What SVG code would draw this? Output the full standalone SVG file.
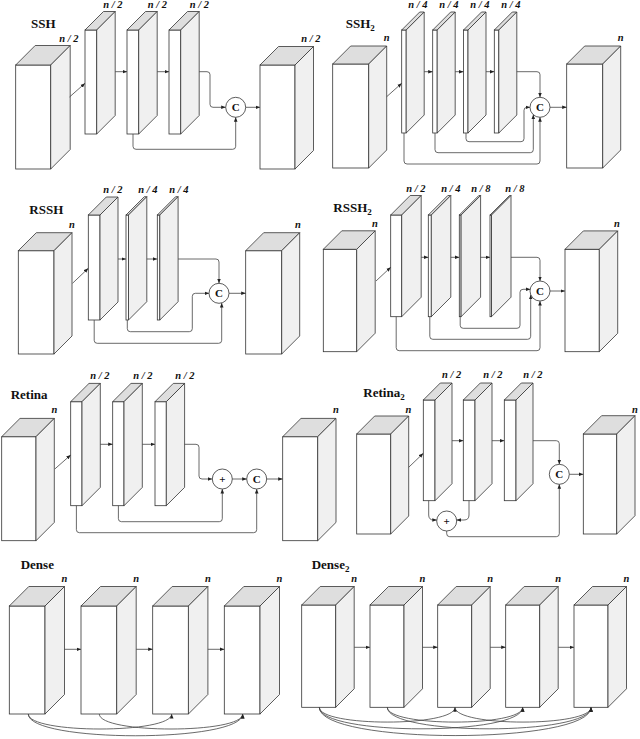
<svg xmlns="http://www.w3.org/2000/svg" width="640" height="739" viewBox="0 0 640 739">
<style>
.f{fill:#fff;stroke:#333;stroke-width:0.8}
.t{fill:#dedede;stroke:#333;stroke-width:0.8;stroke-linejoin:round}
.s{fill:#f0f0f0;stroke:#333;stroke-width:0.8;stroke-linejoin:round}
.c{fill:none;stroke:#444;stroke-width:0.8;marker-end:url(#a)}
.lab{font-family:"Liberation Serif",serif;font-weight:bold;font-style:italic;font-size:10.5px;text-anchor:middle;fill:#111}
.ttl{font-family:"Liberation Serif",serif;font-weight:bold;font-size:13px;fill:#111}
.sub{font-size:9px}
.op{fill:#fff;stroke:#333;stroke-width:0.8}
.opt{font-family:"Liberation Serif",serif;font-weight:bold;font-size:11px;text-anchor:middle;fill:#111}
</style>
<defs>
<marker id="a" viewBox="0 0 10 10" refX="10" refY="5" markerWidth="4.5" markerHeight="4.5" markerUnits="userSpaceOnUse" orient="auto"><path d="M0,1 L10,5 L0,9 z" fill="#222"/></marker>
</defs>
<rect width="640" height="739" fill="#fff"/>

<!-- ===== SSH ===== -->
<g id="ssh">
<text class="ttl" x="31" y="28">SSH</text>
<g id="ssh-in"><rect class="f" x="15.7" y="65" width="35" height="104"/><polygon class="t" points="15.7,65 35.2,45.5 70.2,45.5 50.7,65"/><polygon class="s" points="50.7,65 70.2,45.5 70.2,149.5 50.7,169"/><text class="lab" x="69" y="41.5">n / 2</text></g>
<g id="ssh-s1"><rect class="f" x="85" y="30" width="11.7" height="104"/><polygon class="t" points="85,30 103.5,11.5 115.2,11.5 96.7,30"/><polygon class="s" points="96.7,30 115.2,11.5 115.2,115.5 96.7,134"/><text class="lab" x="113" y="7.5">n / 2</text></g>
<g id="ssh-s2"><rect class="f" x="127" y="30" width="11.7" height="104"/><polygon class="t" points="127,30 145.5,11.5 157.2,11.5 138.7,30"/><polygon class="s" points="138.7,30 157.2,11.5 157.2,115.5 138.7,134"/><text class="lab" x="157.5" y="7.5">n / 2</text></g>
<g id="ssh-s3"><rect class="f" x="169" y="30" width="11.7" height="104"/><polygon class="t" points="169,30 187.5,11.5 199.2,11.5 180.7,30"/><polygon class="s" points="180.7,30 199.2,11.5 199.2,115.5 180.7,134"/><text class="lab" x="199.5" y="7.5">n / 2</text></g>
<g id="ssh-out"><rect class="f" x="260" y="65" width="35" height="104"/><polygon class="t" points="260,65 278.5,46.5 313.5,46.5 295,65"/><polygon class="s" points="295,65 313.5,46.5 313.5,150.5 295,169"/><text class="lab" x="311" y="41.5">n / 2</text></g>
<g id="ssh-cat"><circle class="op" cx="235.7" cy="107.3" r="10"/><text class="opt" x="235.7" y="111.2">C</text></g>
</g>

<!-- ===== SSH2 ===== -->
<g id="ssh2">
<text class="ttl" x="345.7" y="28">SSH<tspan class="sub" dy="3">2</tspan></text>
<g id="ssh2-in"><rect class="f" x="332.7" y="64" width="36" height="104"/><polygon class="t" points="332.7,64 350.7,46 386.7,46 368.7,64"/><polygon class="s" points="368.7,64 386.7,46 386.7,150 368.7,168"/><text class="lab" x="386.7" y="41">n</text></g>
<g id="ssh2-s1"><rect class="f" x="401.7" y="30" width="4.5" height="103"/><polygon class="t" points="401.7,30 419.7,12 424.2,12 406.2,30"/><polygon class="s" points="406.2,30 424.2,12 424.2,115 406.2,133"/><text class="lab" x="418" y="7.5">n / 4</text></g>
<g id="ssh2-s2"><rect class="f" x="432.7" y="30" width="4.5" height="103"/><polygon class="t" points="432.7,30 450.7,12 455.2,12 437.2,30"/><polygon class="s" points="437.2,30 455.2,12 455.2,115 437.2,133"/><text class="lab" x="449" y="7.5">n / 4</text></g>
<g id="ssh2-s3"><rect class="f" x="463.5" y="30" width="4.5" height="103"/><polygon class="t" points="463.5,30 481.5,12 486,12 468,30"/><polygon class="s" points="468,30 486,12 486,115 468,133"/><text class="lab" x="480" y="7.5">n / 4</text></g>
<g id="ssh2-s4"><rect class="f" x="494.3" y="30" width="4.5" height="103"/><polygon class="t" points="494.3,30 512.3,12 516.8,12 498.8,30"/><polygon class="s" points="498.8,30 516.8,12 516.8,115 498.8,133"/><text class="lab" x="511" y="7.5">n / 4</text></g>
<g id="ssh2-out"><rect class="f" x="566.7" y="64" width="36" height="104"/><polygon class="t" points="566.7,64 584.7,46 620.7,46 602.7,64"/><polygon class="s" points="602.7,64 620.7,46 620.7,150 602.7,168"/><text class="lab" x="620.7" y="41">n</text></g>
<g id="ssh2-cat"><circle class="op" cx="540" cy="107.3" r="10"/><text class="opt" x="540" y="111.2">C</text></g>
</g>

<!-- ===== RSSH ===== -->
<g id="rssh">
<text class="ttl" x="29.3" y="213.5">RSSH</text>
<g id="rssh-in"><rect class="f" x="18.3" y="250.7" width="35.7" height="103.3"/><polygon class="t" points="18.3,250.7 36.3,232.7 72,232.7 54,250.7"/><polygon class="s" points="54,250.7 72,232.7 72,336 54,354"/><text class="lab" x="72" y="228">n</text></g>
<g id="rssh-s1"><rect class="f" x="88.3" y="215" width="11.7" height="105"/><polygon class="t" points="88.3,215 106.3,197 118,197 100,215"/><polygon class="s" points="100,215 118,197 118,302 100,320"/><text class="lab" x="113" y="192.5">n / 2</text></g>
<g id="rssh-s2"><rect class="f" x="126" y="215" width="2.5" height="105"/><polygon class="t" points="126,215 144.3,196.7 146.8,196.7 128.5,215"/><polygon class="s" points="128.5,215 146.8,196.7 146.8,301.7 128.5,320"/><text class="lab" x="148" y="192.5">n / 4</text></g>
<g id="rssh-s3"><rect class="f" x="157.3" y="215" width="2.5" height="105"/><polygon class="t" points="157.3,215 175.6,196.7 178.1,196.7 159.8,215"/><polygon class="s" points="159.8,215 178.1,196.7 178.1,301.7 159.8,320"/><text class="lab" x="179" y="192.5">n / 4</text></g>
<g id="rssh-out"><rect class="f" x="245.7" y="250.7" width="36" height="103.3"/><polygon class="t" points="245.7,250.7 263.7,232.7 299.7,232.7 281.7,250.7"/><polygon class="s" points="281.7,250.7 299.7,232.7 299.7,336 281.7,354"/><text class="lab" x="298" y="228">n</text></g>
<g id="rssh-cat"><circle class="op" cx="219" cy="293.3" r="10"/><text class="opt" x="219" y="297.2">C</text></g>
</g>

<!-- ===== RSSH2 ===== -->
<g id="rssh2">
<text class="ttl" x="333.3" y="211.5">RSSH<tspan class="sub" dy="3">2</tspan></text>
<g id="rssh2-in"><rect class="f" x="323.3" y="249.3" width="33.4" height="102.4"/><polygon class="t" points="323.3,249.3 341.8,230.8 375.2,230.8 356.7,249.3"/><polygon class="s" points="356.7,249.3 375.2,230.8 375.2,333.2 356.7,351.7"/><text class="lab" x="375" y="226.5">n</text></g>
<g id="rssh2-s1"><rect class="f" x="390.7" y="215" width="11" height="101.7"/><polygon class="t" points="390.7,215 410.2,195.5 421.2,195.5 401.7,215"/><polygon class="s" points="401.7,215 421.2,195.5 421.2,297.2 401.7,316.7"/><text class="lab" x="416" y="192">n / 2</text></g>
<g id="rssh2-s2"><rect class="f" x="428.3" y="215" width="3" height="101.7"/><polygon class="t" points="428.3,215 447.8,195.5 450.8,195.5 431.3,215"/><polygon class="s" points="431.3,215 450.8,195.5 450.8,297.2 431.3,316.7"/><text class="lab" x="451" y="192">n / 4</text></g>
<g id="rssh2-s3"><rect class="f" x="459.3" y="215" width="1.8" height="101.7"/><polygon class="t" points="459.3,215 478.8,195.5 480.6,195.5 461.1,215"/><polygon class="s" points="461.1,215 480.6,195.5 480.6,297.2 461.1,316.7"/><text class="lab" x="481" y="192">n / 8</text></g>
<g id="rssh2-s4"><rect class="f" x="490" y="215" width="1.5" height="101.7"/><polygon class="t" points="490,215 509.5,195.5 511,195.5 491.5,215"/><polygon class="s" points="491.5,215 511,195.5 511,297.2 491.5,316.7"/><text class="lab" x="515" y="192">n / 8</text></g>
<g id="rssh2-out"><rect class="f" x="565" y="249.3" width="34.3" height="102.4"/><polygon class="t" points="565,249.3 583.4,230.9 617.7,230.9 599.3,249.3"/><polygon class="s" points="599.3,249.3 617.7,230.9 617.7,333.3 599.3,351.7"/><text class="lab" x="617" y="226.5">n</text></g>
<g id="rssh2-cat"><circle class="op" cx="540" cy="291" r="10"/><text class="opt" x="540" y="294.9">C</text></g>
</g>

<!-- ===== Retina ===== -->
<g id="retina">
<text class="ttl" x="10.7" y="398.5">Retina</text>
<g id="ret-in"><rect class="f" x="1.7" y="436.7" width="34.3" height="104"/><polygon class="t" points="1.7,436.7 20,418.4 54.3,418.4 36,436.7"/><polygon class="s" points="36,436.7 54.3,418.4 54.3,522.4 36,540.7"/><text class="lab" x="54.3" y="413">n</text></g>
<g id="ret-s1"><rect class="f" x="70.7" y="401.7" width="11.3" height="104"/><polygon class="t" points="70.7,401.7 89,383.4 100.3,383.4 82,401.7"/><polygon class="s" points="82,401.7 100.3,383.4 100.3,487.4 82,505.7"/><text class="lab" x="100" y="378.5">n / 2</text></g>
<g id="ret-s2"><rect class="f" x="112.7" y="401.7" width="11.3" height="104"/><polygon class="t" points="112.7,401.7 131,383.4 142.3,383.4 124,401.7"/><polygon class="s" points="124,401.7 142.3,383.4 142.3,487.4 124,505.7"/><text class="lab" x="143" y="378.5">n / 2</text></g>
<g id="ret-s3"><rect class="f" x="155" y="401.7" width="11.3" height="104"/><polygon class="t" points="155,401.7 173.3,383.4 184.6,383.4 166.3,401.7"/><polygon class="s" points="166.3,401.7 184.6,383.4 184.6,487.4 166.3,505.7"/><text class="lab" x="185" y="378.5">n / 2</text></g>
<g id="ret-out"><rect class="f" x="282.7" y="436.7" width="35" height="104"/><polygon class="t" points="282.7,436.7 301,418.4 336,418.4 317.7,436.7"/><polygon class="s" points="317.7,436.7 336,418.4 336,522.4 317.7,540.7"/><text class="lab" x="336" y="413">n</text></g>
<g id="ret-add"><circle class="op" cx="222.3" cy="479" r="10"/><text class="opt" x="222.3" y="482.8">+</text></g>
<g id="ret-cat"><circle class="op" cx="256.7" cy="479" r="10"/><text class="opt" x="256.7" y="482.9">C</text></g>
</g>

<!-- ===== Retina2 ===== -->
<g id="retina2">
<text class="ttl" x="363.3" y="396.5">Retina<tspan class="sub" dy="3">2</tspan></text>
<g id="ret2-in"><rect class="f" x="356.7" y="434" width="34" height="100"/><polygon class="t" points="356.7,434 374.7,416 408.7,416 390.7,434"/><polygon class="s" points="390.7,434 408.7,416 408.7,516 390.7,534"/><text class="lab" x="408.3" y="412.5">n</text></g>
<g id="ret2-s1"><rect class="f" x="423.3" y="400" width="11.7" height="100.7"/><polygon class="t" points="423.3,400 440.3,383 452,383 435,400"/><polygon class="s" points="435,400 452,383 452,483.7 435,500.7"/><text class="lab" x="451.7" y="377.5">n / 2</text></g>
<g id="ret2-s2"><rect class="f" x="463.3" y="400" width="11.7" height="100.7"/><polygon class="t" points="463.3,400 480.3,383 492,383 475,400"/><polygon class="s" points="475,400 492,383 492,483.7 475,500.7"/><text class="lab" x="493" y="377.5">n / 2</text></g>
<g id="ret2-s3"><rect class="f" x="504.3" y="400" width="11.7" height="100.7"/><polygon class="t" points="504.3,400 521.3,383 533,383 516,400"/><polygon class="s" points="516,400 533,383 533,483.7 516,500.7"/><text class="lab" x="533" y="377.5">n / 2</text></g>
<g id="ret2-out"><rect class="f" x="583.3" y="434" width="33.4" height="100"/><polygon class="t" points="583.3,434 601.6,415.7 635,415.7 616.7,434"/><polygon class="s" points="616.7,434 635,415.7 635,515.7 616.7,534"/><text class="lab" x="635" y="412.5">n</text></g>
<g id="ret2-cat"><circle class="op" cx="559.3" cy="474.3" r="10"/><text class="opt" x="559.3" y="478.2">C</text></g>
<g id="ret2-add"><circle class="op" cx="446.7" cy="521" r="10"/><text class="opt" x="446.7" y="524.8">+</text></g>
</g>

<!-- ===== Dense ===== -->
<g id="dense">
<text class="ttl" x="20.7" y="568.5">Dense</text>
<g id="d1"><rect class="f" x="9.3" y="606" width="35.7" height="108"/><polygon class="t" points="9.3,606 28.8,586.5 64.5,586.5 45,606"/><polygon class="s" points="45,606 64.5,586.5 64.5,694.5 45,714"/><text class="lab" x="64.5" y="582">n</text></g>
<g id="d2"><rect class="f" x="81" y="606" width="35.7" height="108"/><polygon class="t" points="81,606 100.5,586.5 136.2,586.5 116.7,606"/><polygon class="s" points="116.7,606 136.2,586.5 136.2,694.5 116.7,714"/><text class="lab" x="136.2" y="582">n</text></g>
<g id="d3"><rect class="f" x="152.7" y="606" width="35.7" height="108"/><polygon class="t" points="152.7,606 172.2,586.5 207.9,586.5 188.4,606"/><polygon class="s" points="188.4,606 207.9,586.5 207.9,694.5 188.4,714"/><text class="lab" x="207.9" y="582">n</text></g>
<g id="d4"><rect class="f" x="224.3" y="606" width="35.7" height="108"/><polygon class="t" points="224.3,606 243.8,586.5 279.5,586.5 260,606"/><polygon class="s" points="260,606 279.5,586.5 279.5,694.5 260,714"/><text class="lab" x="279.5" y="582">n</text></g>
</g>

<!-- ===== Dense2 ===== -->
<g id="dense2">
<text class="ttl" x="311.7" y="568.5">Dense<tspan class="sub" dy="3">2</tspan></text>
<g id="e1"><rect class="f" x="301.7" y="605" width="34" height="102.3"/><polygon class="t" points="301.7,605 320.2,586.5 354.2,586.5 335.7,605"/><polygon class="s" points="335.7,605 354.2,586.5 354.2,688.8 335.7,707.3"/><text class="lab" x="354.2" y="582">n</text></g>
<g id="e2"><rect class="f" x="370" y="605" width="34" height="102.3"/><polygon class="t" points="370,605 388.5,586.5 422.5,586.5 404,605"/><polygon class="s" points="404,605 422.5,586.5 422.5,688.8 404,707.3"/><text class="lab" x="422.5" y="582">n</text></g>
<g id="e3"><rect class="f" x="437.7" y="605" width="34" height="102.3"/><polygon class="t" points="437.7,605 456.2,586.5 490.2,586.5 471.7,605"/><polygon class="s" points="471.7,605 490.2,586.5 490.2,688.8 471.7,707.3"/><text class="lab" x="490.2" y="582">n</text></g>
<g id="e4"><rect class="f" x="505.7" y="605" width="34" height="102.3"/><polygon class="t" points="505.7,605 524.2,586.5 558.2,586.5 539.7,605"/><polygon class="s" points="539.7,605 558.2,586.5 558.2,688.8 539.7,707.3"/><text class="lab" x="558.2" y="582">n</text></g>
<g id="e5"><rect class="f" x="574" y="605" width="34" height="102.3"/><polygon class="t" points="574,605 592.5,586.5 626.5,586.5 608,605"/><polygon class="s" points="608,605 626.5,586.5 626.5,688.8 608,707.3"/><text class="lab" x="626.5" y="582">n</text></g>
</g>

<!-- ===== Connectors ===== -->
<g id="connectors">
<!-- SSH -->
<path class="c" d="M69.5,97 L85,83.3"/>
<path class="c" d="M115.2,71.7 H127"/>
<path class="c" d="M157.2,71.7 H169"/>
<path class="c" d="M199.2,71.7 H207 Q210,71.7 210,74.7 V104.3 Q210,107.3 213,107.3 H225.7"/>
<path class="c" d="M133,134 V146.3 Q133,149.3 136,149.3 H232.7 Q235.7,149.3 235.7,146.3 V117.3"/>
<path class="c" d="M245.7,107.3 H260"/>
<!-- SSH2 -->
<path class="c" d="M386.7,96.7 L401.7,83.3"/>
<path class="c" d="M424.2,71.7 H432.7"/>
<path class="c" d="M455.2,71.7 H463.5"/>
<path class="c" d="M486,71.7 H494.3"/>
<path class="c" d="M516.8,71.7 H537 Q540,71.7 540,74.7 V97.3"/>
<path class="c" d="M466,133 V138.7 Q466,141.7 469,141.7 H521 Q524,141.7 524,138.7 V110.3 Q524,107.3 527,107.3 H530"/>
<path class="c" d="M435,133 V149.7 Q435,152.7 438,152.7 H530.3 Q533.3,152.7 533.3,149.7 V114.6"/>
<path class="c" d="M404,133 V161 Q404,164 407,164 H537 Q540,164 540,161 V117.3"/>
<path class="c" d="M550,107.3 H566.7"/>
<!-- RSSH -->
<path class="c" d="M72.5,283.3 L88.3,268.3"/>
<path class="c" d="M118,259 H126"/>
<path class="c" d="M146.8,259 H157.3"/>
<path class="c" d="M178.1,259 H216 Q219,259 219,262 V283.3"/>
<path class="c" d="M127.3,320 V328.7 Q127.3,331.7 130.3,331.7 H189.3 Q192.3,331.7 192.3,328.7 V296.3 Q192.3,293.3 195.3,293.3 H209"/>
<path class="c" d="M94.2,320 V340.3 Q94.2,343.3 97.2,343.3 H218.7 Q221.7,343.3 221.7,340.3 V303"/>
<path class="c" d="M229,293.3 H245.7"/>
<!-- RSSH2 -->
<path class="c" d="M376,281 L390.7,267.3"/>
<path class="c" d="M421.2,257.3 H428.3"/>
<path class="c" d="M450.8,257.3 H459.3"/>
<path class="c" d="M480.6,257.3 H490"/>
<path class="c" d="M511,257.3 H537 Q540,257.3 540,260.3 V281"/>
<path class="c" d="M460.2,316.7 V325.3 Q460.2,328.3 463.2,328.3 H517 Q520,328.3 520,325.3 V292.3 Q520,289.3 523,289.3 H530.2"/>
<path class="c" d="M429.8,316.7 V336.3 Q429.8,339.3 432.8,339.3 H527.7 Q530.7,339.3 530.7,336.3 V294.8"/>
<path class="c" d="M396.2,316.7 V347.7 Q396.2,350.7 399.2,350.7 H537 Q540,350.7 540,347.7 V301"/>
<path class="c" d="M550,291 H565"/>
<!-- Retina -->
<path class="c" d="M54.8,469 L70.7,455"/>
<path class="c" d="M100.3,444.3 H112.7"/>
<path class="c" d="M142.3,444.3 H155"/>
<path class="c" d="M184.6,444.3 H196 Q199,444.3 199,447.3 V476 Q199,479 202,479 H212.3"/>
<path class="c" d="M118.4,505.7 V518.7 Q118.4,521.7 121.4,521.7 H219.3 Q222.3,521.7 222.3,518.7 V489"/>
<path class="c" d="M232.3,479 H246.7"/>
<path class="c" d="M76.4,505.7 V529.7 Q76.4,532.7 79.4,532.7 H253.7 Q256.7,532.7 256.7,529.7 V489"/>
<path class="c" d="M266.7,479 H282.7"/>
<!-- Retina2 -->
<path class="c" d="M408.7,467.3 L423.3,453.3"/>
<path class="c" d="M452,440.7 H463.3"/>
<path class="c" d="M492,440.7 H504.3"/>
<path class="c" d="M533,440.7 H556.3 Q559.3,440.7 559.3,443.7 V464.3"/>
<path class="c" d="M428.7,500.7 V515 Q428.7,520 433.7,520 H436.8"/>
<path class="c" d="M469,500.7 V515 Q469,520 464,520 H456.6"/>
<path class="c" d="M446.7,531 V533.7 Q446.7,536.7 449.7,536.7 H556.3 Q559.3,536.7 559.3,533.7 V484.3"/>
<path class="c" d="M569.3,474.3 H583.3"/>
<!-- Dense -->
<path class="c" d="M64.5,649.3 H81"/>
<path class="c" d="M136.2,649.3 H152.7"/>
<path class="c" d="M207.9,649.3 H224.3"/>
<path class="c" d="M28.3,714 C28.3,734 171.7,734 171.7,714"/>
<path class="c" d="M99.3,714 C99.3,734 242.7,734 242.7,714"/>
<path class="c" d="M28.3,714 C28.3,743 242.7,743 242.7,714"/>
<!-- Dense2 -->
<path class="c" d="M354.2,647.3 H370"/>
<path class="c" d="M422.5,647.3 H437.7"/>
<path class="c" d="M490.2,647.3 H505.7"/>
<path class="c" d="M558.2,647.3 H574"/>
<path class="c" d="M319.3,707.3 C319.3,727 455,727 455,707.3"/>
<path class="c" d="M387.3,707.3 C387.3,727 522.7,727 522.7,707.3"/>
<path class="c" d="M455,707.3 C455,727 591,727 591,707.3"/>
<path class="c" d="M319.3,707.3 C319.3,736 522.7,736 522.7,707.3"/>
<path class="c" d="M387.3,707.3 C387.3,736 591,736 591,707.3"/>
<path class="c" d="M319.3,707.3 C319.3,745 591,745 591,707.3"/>
</g>
</svg>
